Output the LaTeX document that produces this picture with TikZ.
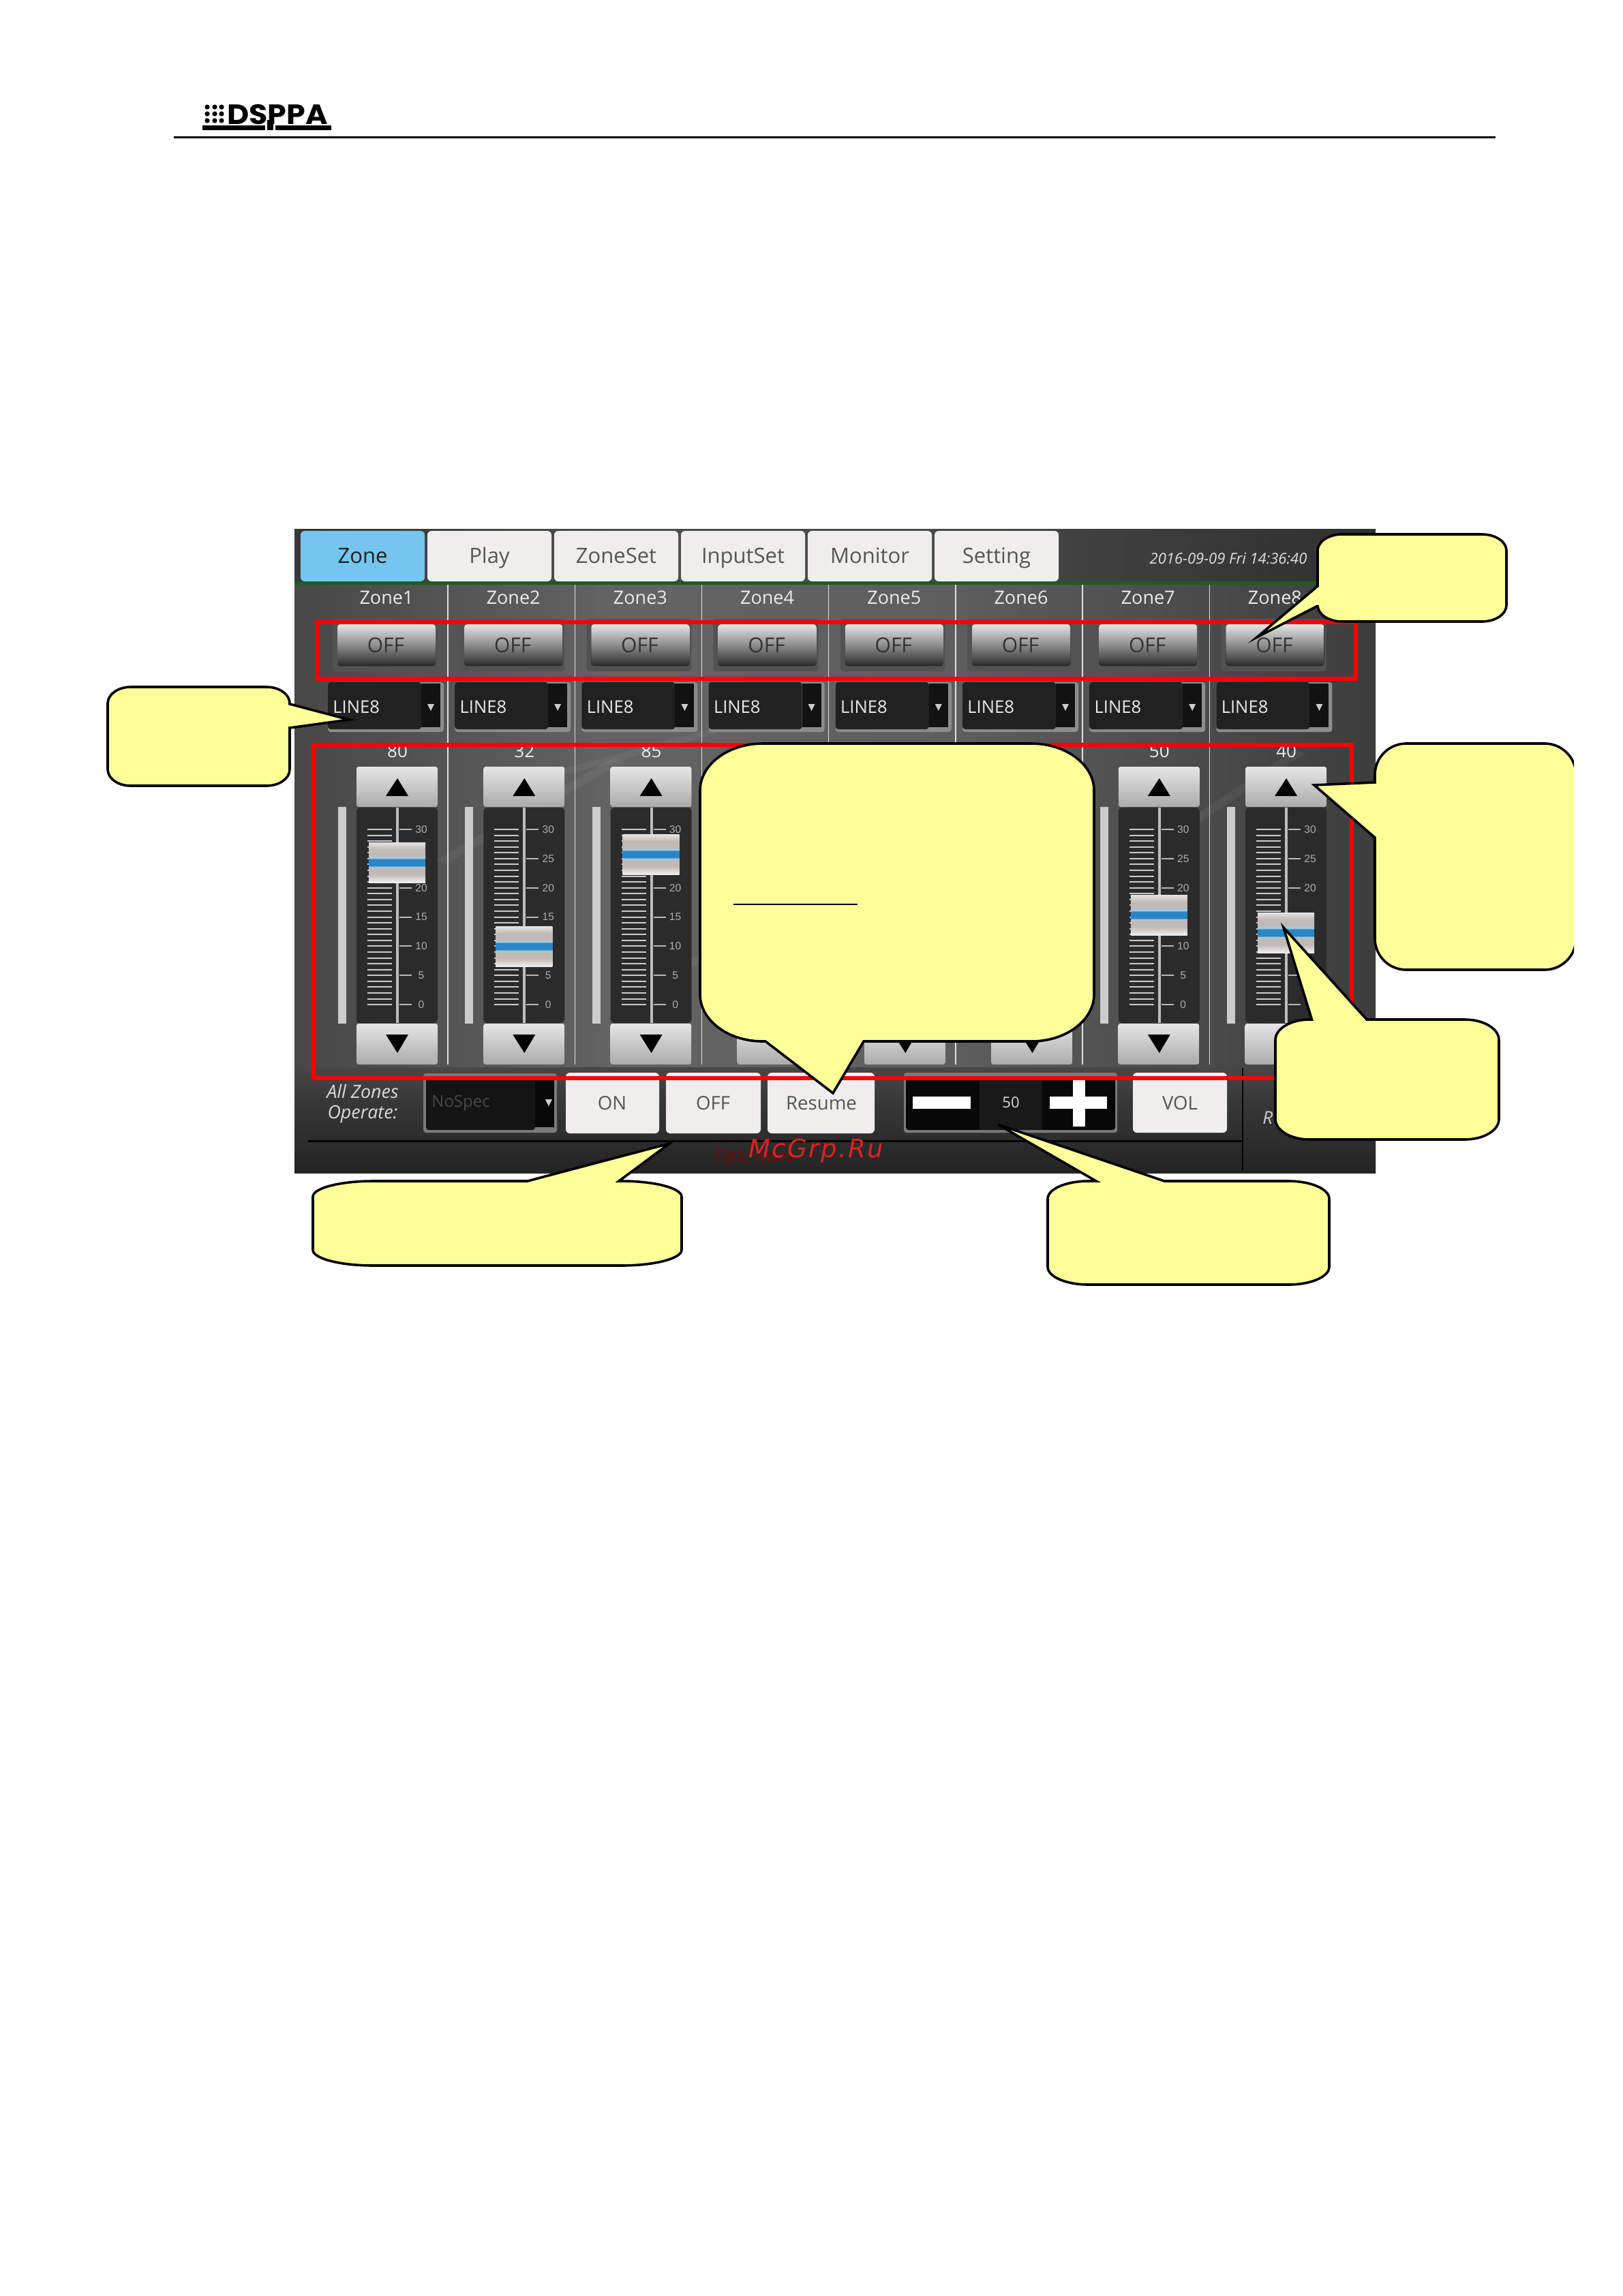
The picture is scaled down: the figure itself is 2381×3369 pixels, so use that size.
\documentclass[tikz,border=0pt]{standalone}
\usepackage{fontspec}
\setmainfont{Open Sans}
\newfontfamily\tickfont{Liberation Sans}
\newfontfamily\logofont[FakeStretch=1.08]{Poppins}
\newfontfamily\markfont[LetterSpace=6.5]{DejaVu Sans}
\newcommand\fsz[1]{\fontsize{#1}{#1}\selectfont}
\definecolor{note}{HTML}{FFFF99}
\definecolor{redbox}{HTML}{FF0000}
\definecolor{tabface}{HTML}{F0EEEC}
\definecolor{tabtext}{HTML}{555555}
\definecolor{tabactive}{HTML}{74C6EE}
\definecolor{thumbblue}{HTML}{2A86C4}
\definecolor{thumbhalo}{HTML}{A9CBE0}
\definecolor{thumbgrey}{HTML}{C0B9B5}
\definecolor{greenline}{HTML}{1E5C1E}
\definecolor{markred}{HTML}{E02020}
\pgfdeclarehorizontalshading{screenbg}{100bp}{
  color(0bp)=(black!72); color(25bp)=(black!72); color(40bp)=(black!61);
  color(55bp)=(black!63); color(75bp)=(black!76); color(100bp)=(black!76)}
\pgfdeclareverticalshading{thumbsh}{100bp}{
  color(0bp)=(black!6); color(25bp)=(black!6); color(35bp)=(thumbgrey);
  color(42bp)=(thumbgrey); color(44.5bp)=(thumbhalo); color(46bp)=(thumbblue);
  color(54bp)=(thumbblue); color(55.5bp)=(thumbhalo); color(59bp)=(thumbgrey); color(66bp)=(thumbgrey);
  color(75bp)=(black!10); color(100bp)=(black!10)}
\pgfdeclareverticalshading{offsh}{100bp}{
  color(0bp)=(black!85); color(25bp)=(black!85); color(32bp)=(black!72);
  color(50bp)=(black!45); color(75bp)=(black!10); color(100bp)=(black!10)}
\pgfdeclareverticalshading{barsh}{100bp}{
  color(0bp)=(black!86); color(25bp)=(black!86); color(60bp)=(black!78);
  color(75bp)=(black!72); color(100bp)=(black!72)}
\tikzset{
  notebox/.style={draw=black,fill=note,line width=1.8pt,line join=miter,miter limit=10},
  redframe/.style={draw=redbox,line width=3.3pt},
  tabbtn/.style={fill=tabface,rounded corners=3pt},
  tablabel/.style={font=\fsz{15.5},text=tabtext,inner sep=0pt,anchor=base},
  opbtn/.style={font=\fsz{13.8},text=tabtext,inner sep=0pt,anchor=base},
  upbtn/.style={top color=black!10,bottom color=black!33,rounded corners=1.5pt},
  whitelabel/.style={font=\fsz{13.5},text=black!8,inner sep=0pt,anchor=base},
  ticklabel/.style={font={\tickfont\fsz{7.8}},text=black!32,inner sep=0pt},
}
\newcommand\cTR[2]{arc[start angle=270,end angle=360,x radius=#1,y radius=#2]}
\newcommand\cBR[2]{arc[start angle=0,end angle=90,x radius=#1,y radius=#2]}
\newcommand\cBL[2]{arc[start angle=90,end angle=180,x radius=#1,y radius=#2]}
\newcommand\cTL[2]{arc[start angle=180,end angle=270,x radius=#1,y radius=#2]}
\begin{document}
\begin{tikzpicture}[x=0.5pt,y=-0.5pt]
\useasboundingbox (0,0) rectangle (2381,3369);
\fill[white] (0,0) rectangle (2381,3369);

% page header
\fill (255,199.5) rectangle (2194,202.5);
\foreach \dx in {304,315,325}{\foreach \dy in {157,167,177}{\fill (\dx,\dy) circle[radius=3.6];}}
\node[anchor=base,inner sep=0pt,font={\logofont\bfseries\fsz{20.5}}] (logo) at (407,182) {DSPPA};
\fill (297,184) rectangle (389,191);
\fill (404,184) rectangle (486,191);
\fill (392,176) rectangle (401,191);

% screen
\fill[shading=screenbg] (432,776) rectangle (2018,1721);
\fill[black,opacity=.22] (432,776) rectangle (2018,858);
\foreach \ax/\ay/\bx/\by in {640/1262/900/1112,820/1130/1040/1070,990/1420/1320/1240,1040/1230/1200/1140,1700/1230/1900/1100}{
  \fill[white,opacity=.05] (\ax,\ay) -- (\bx,\by) -- (\bx+14,\by+6) -- (\ax+14,\ay+6) -- cycle;}

% tabs
\fill[greenline] (432,853) rectangle (2018,858);
\fill[tabactive,rounded corners=3pt] (441,779) rectangle (623,853);
\node[tablabel,text=black!88] (tabzone) at (532,826) {Zone};
\foreach \i/\t in {1/Play,2/ZoneSet,3/InputSet,4/Monitor,5/Setting}{
  \pgfmathsetmacro\tx{441+186*\i}
  \fill[tabbtn] (\tx,779) rectangle ++(182,74);
  \node[tablabel] (tab\i) at (\tx+91,826) {\t};
}
\node[inner sep=0pt,font=\fsz{11}\itshape,text=black!12] (clock) at (1802,820) {2016-09-09 Fri 14:36:40};

% column dividers
\foreach \k in {0,...,6}{\draw[black!12,line width=.7pt] (657+186.2*\k,858) -- (657+186.2*\k,1562);}

% OFF buttons, combos, zone names
\foreach \i in {0,...,7}{
  \begin{scope}[shift={(186.2*\i,0)}]
    \fill[black!68,rounded corners=2pt] (488,908) rectangle (642,985);
    \fill[shading=offsh,rounded corners=2pt] (495,916) rectangle (639,977);
    \node[inner sep=0pt,font=\fsz{15},text=black!80] (off\i) at (566,947) {OFF};
    \pgfmathtruncatemacro\zn{\i+1}
    \node[whitelabel] (zname\i) at (567,886) {Zone\zn};
    \fill[black!45,rounded corners=2pt] (481,1001) rectangle (651,1074);
    \fill[black!87,rounded corners=2pt] (481,1001) rectangle (618,1070);
    \fill[black!93] (618,1003) rectangle (646,1067);
    \fill[black!20] (627,1033) -- (637,1033) -- (632,1043) -- cycle;
    \node[inner sep=0pt,anchor=west,font=\fsz{12.8},text=black!8] (line\i) at (488,1037) {LINE8};
    % down button
    \fill[upbtn] (523,1502) rectangle (642,1562);
  \end{scope}
}
\foreach \i in {0,...,7}{
  \fill[black] (583+186.3*\i-17,1518) -- (583+186.3*\i+16,1518) -- (583+186.3*\i,1545) -- cycle;
}

% faders
\foreach \i/\val/\thumb in {0/80/1236,1/32/1359,2/85/1224,6/50/1313,7/40/1339}{
  \pgfmathsetmacro\c{583+186.3*\i}
  \begin{scope}[shift={(\c,0)}]
    \node[whitelabel,font=\fsz{13},anchor=center] (val\i) at (0,1102) {\val};
    \fill[upbtn] (-60,1125) rectangle (59,1184);
    \fill[black] (-17,1168) -- (16,1168) -- (0,1142) -- cycle;
    \fill[black!83,rounded corners=2.5pt] (-60,1185) rectangle (59,1501);
    \fill[black!20] (-87,1184) rectangle (-75,1502);
    \fill[black!26] (-2,1185) rectangle (2,1501);
    \foreach \t in {0,...,30}{\fill[black!20] (-44,1217+8.57*\t-1) rectangle (-8,1217+8.57*\t+1);}
    \foreach \lab [count=\n from 0] in {30,25,20,15,10,5,0}{
      \pgfmathsetmacro\yy{1217+42.85*\n}
      \fill[black!28] (3,\yy-1) rectangle (21,\yy+1);
      \pgfmathtruncatemacro\vis{abs(\yy-\thumb-30)>32 ? 1 : 0}
      \ifnum\vis=1 \node[ticklabel] (tick\i-\n) at (35,\yy) {\lab};\fi
    }
    \fill[shading=thumbsh] (-42,\thumb) rectangle (41,\thumb+59);
  \end{scope}
}

% bottom bar
\fill[shading=barsh] (432,1566) rectangle (2018,1721);
\fill[black] (452,1672.5) rectangle (1823,1675.5);
\draw[black,line width=.8pt] (1823,1567) -- (1823,1718);
\node[inner sep=0pt,font=\fsz{13.4}\itshape,text=black!15,align=center] (allz) at (532,1620) {All Zones\\[1.6pt]Operate:};
\fill[black!52,rounded corners=2pt] (621,1575) rectangle (817,1662);
\fill[black!92,rounded corners=2pt] (625,1580) rectangle (785,1658);
\fill[black!97] (785,1580) rectangle (813,1654);
\fill[black!20] (800,1613) -- (810,1613) -- (805,1623) -- cycle;
\node[inner sep=0pt,anchor=west,font=\fsz{12},text=black!72] (nospec) at (633,1619) {NoSpec};
\fill[tabbtn] (830,1574) rectangle (967,1663);
\node[opbtn] (onbtn) at (898,1628) {ON};
\fill[tabbtn] (977,1574) rectangle (1116,1663);
\node[opbtn] (offbtn) at (1046,1628) {OFF};
\fill[tabbtn] (1126,1574) rectangle (1283,1663);
\node[opbtn] (resume) at (1205,1628) {Resume};
\fill[black!52,rounded corners=2pt] (1326,1574) rectangle (1639,1662);
\fill[black!97,rounded corners=2pt] (1329,1580) rectangle (1636,1658);
\fill[black!90] (1437,1580) rectangle (1529,1658);
\fill[white] (1339,1609) rectangle (1424,1627);
\fill[white] (1540,1609) rectangle (1624,1627);
\fill[white] (1574,1585) rectangle (1592,1653);
\node[inner sep=0pt,font=\fsz{11},text=black!15] (volval) at (1483,1618) {50};
\fill[tabbtn] (1662,1574) rectangle (1800,1662);
\node[opbtn] (volbtn) at (1731,1628) {VOL};
\node[inner sep=0pt,anchor=west,font=\fsz{13}\itshape,text=black!18] (rlabel) at (1852,1640) {R};
\node[inner sep=0pt,anchor=base west,font=\fsz{12.5}\itshape,text=red!55!black,opacity=.8] (tips) at (1047,1704) {Tips: None};
\node[inner sep=0pt,anchor=base west,font={\markfont\itshape\fsz{18.5}},text=markred] (mark) at (1098,1698) {McGrp.Ru};

% red frames
\draw[redframe] (465,913) rectangle (1989,996);
\draw[redframe] (460,1093) rectangle (1983,1582);

% callouts
\draw[notebox] (192,1008) -- (391,1008) \cTR{34}{24} -- (425,1033) -- (512,1056) -- (425,1068)
  -- (425,1129) \cBR{34}{24} -- (192,1153) \cBL{34}{24} -- (158,1032) \cTL{34}{24} -- cycle;
\draw[notebox] (1969,784) -- (2174,784) \cTR{36}{24} -- (2210,888) \cBR{36}{24}
  -- (1969,912) \cBL{36}{24} -- (1933,889) -- (1844,935) -- (1933,860) -- (1933,808) \cTL{36}{24} -- cycle;
\draw[notebox] (1119,1091) -- (1513,1091) \cTR{92}{69} -- (1605,1459) \cBR{92}{69}
  -- (1267,1528) -- (1222,1604) -- (1123,1528) -- (1119,1528) \cBL{92}{69} -- (1027,1160) \cTL{92}{69} -- cycle;
\draw[black,line width=1pt] (1075.5,1327) -- (1258,1327);
\begin{scope}
  \clip (1900,1070) rectangle (2309,1440);
  \draw[notebox] (2063,1091) -- (2266,1091) \cTR{46}{46} -- (2312,1377) \cBR{46}{46}
    -- (2063,1423) \cBL{46}{46} -- (2017,1229) -- (1928,1152) -- (2017,1148) -- (2017,1137) \cTL{46}{46} -- cycle;
\end{scope}
\draw[notebox] (1921,1496) -- (1924.5,1496) -- (1883,1361) -- (2005,1496) -- (2149,1496) \cTR{50}{30}
  -- (2199,1642) \cBR{50}{30} -- (1921,1672) \cBL{50}{30} -- (1871,1526) \cTL{50}{30} -- cycle;
\draw[notebox] (548,1733) -- (774,1733) -- (982,1678) -- (908,1733) -- (911,1733) \cTR{89}{23}
  -- (1000,1834) \cBR{89}{23} -- (548,1857) \cBL{89}{23} -- (459,1756) \cTL{89}{23} -- cycle;
\draw[notebox] (1597,1733) -- (1608,1733) -- (1464,1650) -- (1708,1733) -- (1890,1733) \cTR{60}{26}
  -- (1950,1859) \cBR{60}{26} -- (1597,1885) \cBL{60}{26} -- (1537,1759) \cTL{60}{26} -- cycle;
\end{tikzpicture}
\end{document}
